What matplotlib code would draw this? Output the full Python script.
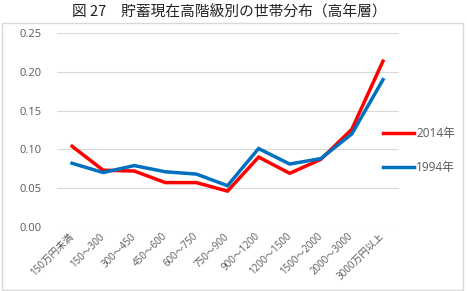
import matplotlib
matplotlib.use("Agg")
import matplotlib.pyplot as plt
from matplotlib.patches import Rectangle

plt.rcParams['font.family'] = ['Open Sans', 'Noto Sans CJK JP', 'DejaVu Sans']

categories = ["150万円未満", "150～300", "300～450", "450～600", "600～750", "750～900",
              "900～1200", "1200～1500", "1500～2000", "2000～3000", "3000万円以上"]
s2014 = [0.104, 0.073, 0.072, 0.057, 0.057, 0.046, 0.090, 0.069, 0.087, 0.126, 0.214]
s1994 = [0.082, 0.070, 0.079, 0.071, 0.068, 0.053, 0.101, 0.081, 0.088, 0.120, 0.190]
yticks = [0.00, 0.05, 0.10, 0.15, 0.20, 0.25]
title = "図 27　貯蓄現在高階級別の世帯分布（高年層）"

W, H = 467, 291
fig = plt.figure(figsize=(W / 100, H / 100), dpi=100)

# outer chart border
fig.patches.append(Rectangle((2 / W, 1 / H), 461 / W, 267 / H, transform=fig.transFigure,
                             fill=False, edgecolor="#d9d9d9", linewidth=1))

fig.text(229 / W, 1 - 12 / H, title, ha="center", va="center", fontsize=10.6,
         color="#222222", family=['Noto Sans CJK JP', 'DejaVu Sans'])

left, right = 56.5, 398.5
top, bottom = 33.3, 226.7
ax = fig.add_axes([left / W, 1 - bottom / H, (right - left) / W, (bottom - top) / H])
x = list(range(len(categories)))
ax.plot(x, s2014, color="#ff0000", linewidth=2.5, label="2014年", solid_joinstyle="miter")
ax.plot(x, s1994, color="#0070c0", linewidth=2.5, label="1994年", solid_joinstyle="miter")
ax.set_xlim(-0.5, len(categories) - 0.5)
ax.set_ylim(0, 0.25)
ax.set_yticks(yticks)
ax.set_yticklabels([f"{v:.2f}" for v in yticks], fontsize=8, color="#595959")
ax.grid(axis="y", color="#d9d9d9", linewidth=0.8)
ax.set_axisbelow(True)
for s in ax.spines.values():
    s.set_visible(False)
ax.tick_params(axis="both", length=0)
ax.tick_params(axis="y", pad=11)
ax.set_xticks(x)
ax.set_xticklabels(categories, rotation=45, ha="right", va="center", rotation_mode="anchor",
                   fontsize=7, color="#595959")
ax.tick_params(axis="x", pad=6)

leg = fig.legend(loc="center left", bbox_to_anchor=(383 / W, 1 - 150.5 / H),
                 bbox_transform=fig.transFigure, frameon=False, borderpad=0, borderaxespad=0,
                 fontsize=8.5, labelcolor="#595959", handlelength=2.6, labelspacing=1.75,
                 handletextpad=0.2)

fig.savefig("out.png", dpi=100)
